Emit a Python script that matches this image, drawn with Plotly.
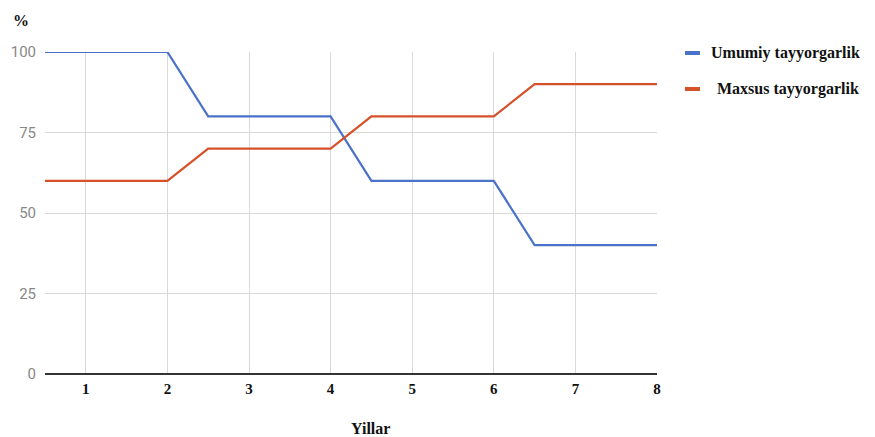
import plotly.graph_objects as go

years = [0.5, 2, 2.5, 4, 4.5, 6, 6.5, 8]
umumiy = [100, 100, 80, 80, 60, 60, 40, 40]
maxsus = [60, 60, 70, 70, 80, 80, 90, 90]
series_names = ["Umumiy tayyorgarlik", "Maxsus tayyorgarlik"]
x_ticks = [1, 2, 3, 4, 5, 6, 7, 8]
y_ticks = [0, 25, 50, 75, 100]

serif = "Liberation Serif, Times New Roman, serif"
sans = "Roboto, Arial, sans-serif"
colors = ["#4a72c8", "#d6502a"]

# plot area in figure pixels (page adds 8px body margin)
L, T, PW, PH = 37, 44, 612, 322
def px(fx):
    return (fx - L) / PW
def py(fy):
    return (T + PH - fy) / PH

fig = go.Figure()
for vals, name, col in [(umumiy, series_names[0], colors[0]), (maxsus, series_names[1], colors[1])]:
    fig.add_trace(go.Scatter(x=years, y=vals, mode="lines", name=name,
                             line=dict(color=col, width=2.2)))

legend_y = [45, 81]
legend_tx = [701, 707]
shapes = []
annotations = []
for i, (name, col) in enumerate(zip(series_names, colors)):
    shapes.append(dict(type="line", xref="paper", yref="paper",
                       x0=px(677), x1=px(692), y0=py(legend_y[i]), y1=py(legend_y[i]),
                       line=dict(color=col, width=4)))
    annotations.append(dict(text=name, x=px(legend_tx[i]), y=py(legend_y[i]),
                            xref="paper", yref="paper", showarrow=False,
                            xanchor="left", yanchor="middle",
                            font=dict(family=serif, size=16, color="#111", weight="bold")))

annotations.append(dict(text="%", x=px(13), y=py(12), xref="paper", yref="paper",
                        showarrow=False, xanchor="center", yanchor="middle",
                        font=dict(family=serif, size=16, color="#111", weight="bold")))
annotations.append(dict(text="Yillar", x=px(362), y=py(420), xref="paper", yref="paper",
                        showarrow=False, xanchor="center", yanchor="middle",
                        font=dict(family=serif, size=16, color="#111", weight="bold")))

fig.update_layout(
    width=867, height=429,
    margin=dict(l=L, r=867 - L - PW, t=T, b=429 - T - PH, autoexpand=False),
    plot_bgcolor="white", paper_bgcolor="white",
    showlegend=False,
    xaxis=dict(range=[0.5, 8], tickvals=x_ticks, showgrid=True, gridcolor="#d9d9d9",
               gridwidth=1, zeroline=False, showline=False, ticks="", automargin=False,
               tickfont=dict(family=serif, size=15, color="#111", weight="bold"),
               ticklabelstandoff=4),
    yaxis=dict(range=[0, 100], tickvals=y_ticks, showgrid=True, gridcolor="#d9d9d9",
               gridwidth=1, zeroline=True, zerolinecolor="#333", zerolinewidth=1.5,
               showline=False, ticks="", ticklabelstandoff=8, automargin=False,
               tickfont=dict(family=sans, size=15, color="#888")),
    shapes=shapes,
    annotations=annotations,
)
fig.write_html("out.html")
